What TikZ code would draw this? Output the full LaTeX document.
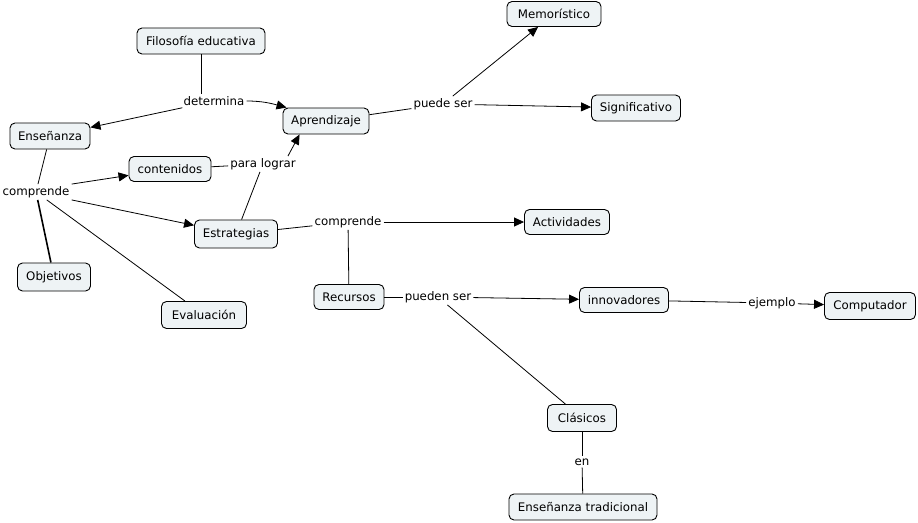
\documentclass[tikz,border=0pt]{standalone}
\usepackage{fontspec}
\setmainfont{DejaVu Sans}
\usetikzlibrary{arrows.meta}
\definecolor{cfill}{HTML}{EEF3F5}
\tikzset{
  concept/.style={draw=black, fill=cfill, rounded corners=5pt, line width=0.9pt, minimum height=26pt, inner xsep=6pt, font=\fontsize{11.8}{13}\selectfont},
  lnk/.style={inner sep=2pt, font=\fontsize{11.8}{13}\selectfont},
  con/.style={line width=0.8pt},
  arr/.style={line width=0.8pt, -{Triangle[length=10pt,width=9pt]}},
}
\begin{document}
\begin{tikzpicture}[x=1pt,y=-1pt]
\useasboundingbox (0,0) rectangle (918,522);
% concepts
\node[concept, minimum width=128pt] (filo) at (201,41) {Filosofía educativa};
\node[concept, minimum width=80pt] (ense) at (50,136) {Enseñanza};
\node[concept, minimum width=86pt] (apre) at (326,121) {Aprendizaje};
\node[concept, minimum width=94pt, minimum height=25pt] (memo) at (554,14) {Memorístico};
\node[concept, minimum width=89pt] (sign) at (636,108) {Significativo};
\node[concept, minimum width=82pt, minimum height=25pt] (cont) at (170,169) {contenidos};
\node[concept, minimum width=83pt, minimum height=28pt] (estr) at (236,234) {Estrategias};
\node[concept, minimum width=73pt, minimum height=28pt] (obje) at (54,277) {Objetivos};
\node[concept, minimum width=85pt, minimum height=27pt] (eval) at (204,315) {Evaluación};
\node[concept, minimum width=85pt, minimum height=25pt] (acti) at (567,222) {Actividades};
\node[concept, minimum width=70pt, minimum height=25pt] (recu) at (349,297) {Recursos};
\node[concept, minimum width=89pt, minimum height=25pt] (inno) at (624,300) {innovadores};
\node[concept, minimum width=91pt, minimum height=27pt] (comp) at (870,306) {Computador};
\node[concept, minimum width=69pt, minimum height=27pt] (clas) at (582,418) {Clásicos};
\node[concept, minimum width=148pt] (trad) at (583,507) {Enseñanza tradicional};
% link labels
\node[lnk] (ldet) at (214,101) {determina};
\node[lnk] (lcomp1) at (36,192) {comprende};
\node[lnk] (lpara) at (263,164) {para lograr};
\node[lnk] (lpuede) at (443,104) {puede ser};
\node[lnk] (lcomp2) at (348,222) {comprende};
\node[lnk] (lpueden) at (438,297) {pueden ser};
\node[lnk] (lejem) at (772,303) {ejemplo};
\node[lnk] (len) at (582,462) {en};
% connectors
\draw[con] (filo) -- (ldet.north -| filo);
\draw[arr] (ldet) -- (ense);
\draw[arr] (ldet.east) to[out=0,in=165] ([xshift=4pt]apre.north west);
\draw[con] (ense) -- (lcomp1);
\draw[arr] (lcomp1.north east) -- (cont);
\draw[arr] (lcomp1.south east) -- (estr);
\draw[con, line width=1.6pt] (lcomp1) -- (obje);
\draw[con] (lcomp1) -- (eval);
\draw[con] (cont) -- (lpara);
\draw[con] (estr) -- (lpara);
\draw[arr] ([xshift=-10pt]lpara.north east) -- ([xshift=17pt]apre.south west);
\draw[con] (apre) -- (lpuede);
\draw[arr] (lpuede) -- (memo);
\draw[arr] (lpuede) -- (sign);
\draw[con] (estr) -- (lcomp2);
\draw[arr] (lcomp2) -- (acti);
\draw[con] (lcomp2) -- (recu);
\draw[con] (recu) -- (lpueden);
\draw[arr] (lpueden) -- (inno);
\draw[con] (lpueden) -- (clas);
\draw[con] (inno) -- (lejem);
\draw[arr] (lejem) -- (comp);
\draw[con] (clas) -- (len);
\draw[con] (len) -- (trad);
\end{tikzpicture}
\end{document}
